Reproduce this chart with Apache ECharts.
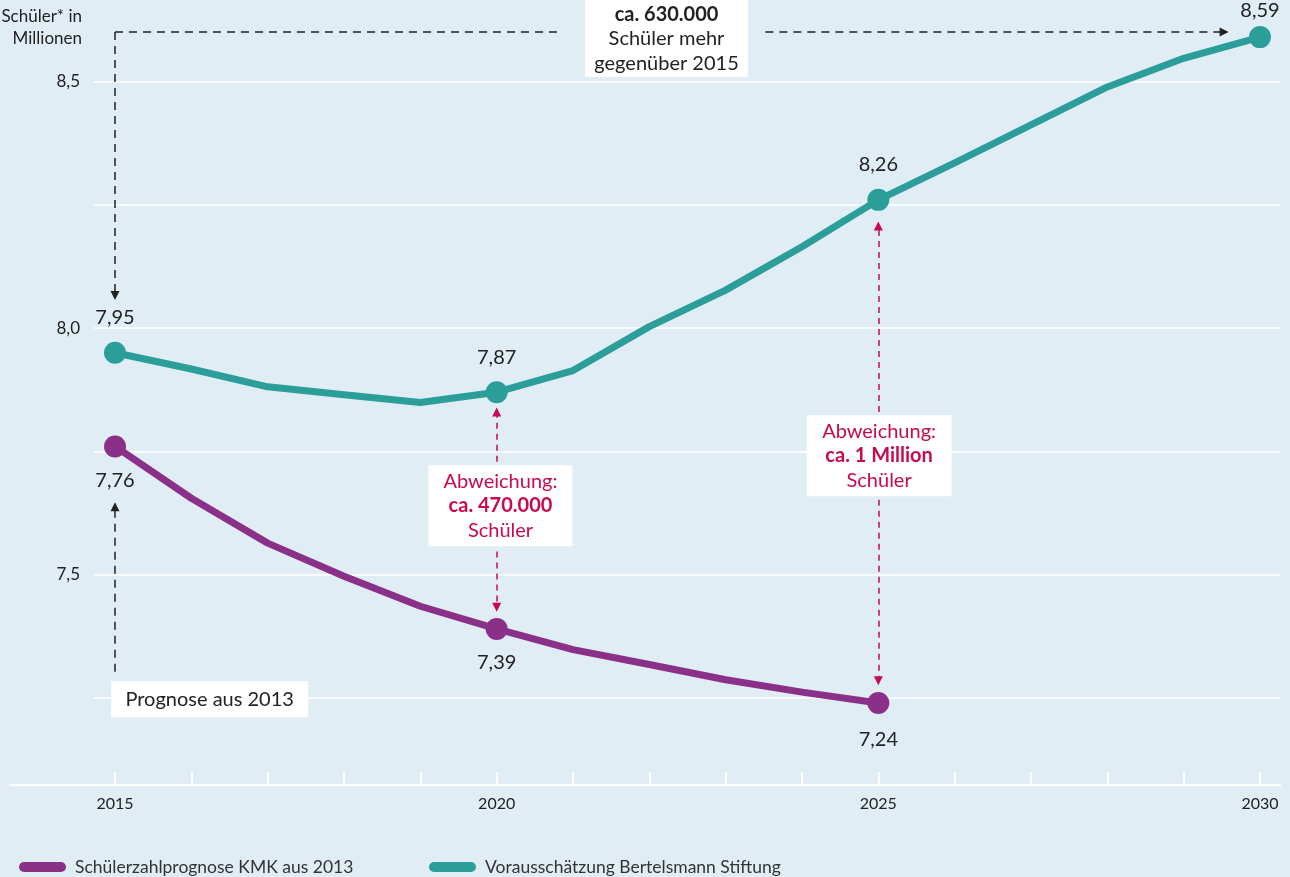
<!DOCTYPE html>
<html><head><meta charset="utf-8">
<script src="https://cdn.jsdelivr.net/npm/echarts@6/dist/echarts.min.js"></script>
<style>html,body{margin:0;padding:0;background:#e0edf5}#c{width:1290px;height:877px}</style>
</head><body><div id="c"></div>
<script>
// ---- data ----
const years = [2015,2016,2017,2018,2019,2020,2021,2022,2023,2024,2025,2026,2027,2028,2029,2030];
const kmkYears = [2015,2016,2017,2018,2019,2020,2021,2022,2023,2024,2025];
const kmkValues = [7.76,7.655,7.564,7.497,7.436,7.39,7.348,7.318,7.287,7.262,7.24];
const bertYears = years;
const bertValues = [7.95,7.917,7.881,7.865,7.849,7.87,7.914,8.003,8.077,8.165,8.26,8.335,8.412,8.489,8.547,8.59];
const labelledYears = [2015,2020,2025,2030];
const xTickLabels = [2015,2020,2025,2030];
const seriesNames = ['Schülerzahlprognose KMK aus 2013','Vorausschätzung Bertelsmann Stiftung'];

// ---- styles ----
const TEAL = '#2b9e99', PURPLE = '#8b3088', CRIMSON = '#c80a50', INK = '#222';
const FONT = 'Lato';
const fmt = v => v.toFixed(2).replace('.', ',');

// axis scale (pixel geometry of the plot)
const yMin = 7.25 - (785 - 698) / 493.2;
const yMax = 8.5 + 81.5 / 493.2;
const xMin = 2015 - 105 / 76.33;
const xMax = 2030 + 20 / 76.33;

const chart = echarts.init(document.getElementById('c'), null, {renderer:'canvas'});

function pts(ys, vs){ return ys.map((y,i)=>[y, vs[i]]); }

const black = {color: INK, width: 1.5, type: [8,6]};
const red = {color: CRIMSON, width: 1.5, type: [6,5]};
function seg(a, b, style, endSym, startSym){
  return [{coord:a, lineStyle:style, symbol:startSym||'none', symbolSize:9},
          {coord:b, symbol:endSym||'none', symbolSize:9}];
}
function box(coord, size, text, rich){
  return {coord, symbol:'rect', symbolSize:size, itemStyle:{color:'#fff'},
    label:{show:true, position:'inside', formatter:text, rich, lineHeight:24.5}};
}
const richDark = {b:{fontFamily:FONT, fontSize:20, fontWeight:'bold', color:INK, lineHeight:24.5},
                  r:{fontFamily:FONT, fontSize:20, color:INK, lineHeight:24.5}};
const richRed = {b:{fontFamily:FONT, fontSize:20, fontWeight:'bold', color:CRIMSON, lineHeight:24.5},
                 r:{fontFamily:FONT, fontSize:20, color:CRIMSON, lineHeight:24.5}};

const labelBase = {show:true, fontFamily:FONT, fontSize:20, color:INK};

const option = {
  backgroundColor: '#e0edf5',
  animation: false,
  textStyle: {fontFamily: FONT},
  grid: [
    {left:94, right:10, top:81.5, bottom:877-698},
    {left:10, right:10, top:0, bottom:877-785}
  ],
  xAxis: [
    {gridIndex:0, type:'value', min:xMin, max:xMax, show:false},
    {gridIndex:1, type:'value', min:xMin, max:xMax,
      axisLine:{show:true, lineStyle:{color:'#fff', width:2}},
      axisTick:{show:true, inside:true, length:13, lineStyle:{color:'#fff', width:2}, customValues: years},
      axisLabel:{customValues: xTickLabels, fontFamily:FONT, fontSize:16, color:INK, margin:11, formatter: v => String(v)},
      splitLine:{show:false}}
  ],
  yAxis: [
    {gridIndex:0, type:'value', min:7.25, max:8.5, interval:0.25,
      axisLine:{show:false}, axisTick:{show:false},
      axisLabel:{fontFamily:FONT, fontSize:17, color:INK, margin:14,
        formatter: v => Math.abs(v*2 - Math.round(v*2)) < 1e-6 ? v.toFixed(1).replace('.', ',') : ''},
      splitLine:{show:true, lineStyle:{color:'#fff', width:1.5}}},
    {gridIndex:1, type:'value', min:yMin, max:yMax, show:false}
  ],
  legend: [
    {data:[seriesNames[0]], left:14, top:853, itemWidth:47, itemHeight:10, itemGap:0, selectedMode:false,
      icon:'path://M5,0H42A5,5,0,0,1,42,10H5A5,5,0,0,1,5,0Z',
      textStyle:{fontFamily:FONT, fontSize:17.5, color:'#333', padding:[0,0,0,4]}},
    {data:[seriesNames[1]], left:424, top:853, itemWidth:47, itemHeight:10, itemGap:0, selectedMode:false,
      icon:'path://M5,0H42A5,5,0,0,1,42,10H5A5,5,0,0,1,5,0Z',
      textStyle:{fontFamily:FONT, fontSize:17.5, color:'#333', padding:[0,0,0,4]}}
  ],
  graphic: [
    {type:'text', right:1290-82, top:6, style:{text:'Schüler* in\nMillionen', font:'17px Lato', fill:INK, textAlign:'right', lineHeight:22}}
  ],
  series: [
    {
      name: seriesNames[0], type:'line', xAxisIndex:1, yAxisIndex:1,
      data: pts(kmkYears, kmkValues).map(p => ({value:p,
        label: labelledYears.includes(p[0]) ? {...labelBase, position:'bottom', distance: p[0]===2025 ? 16 : 13, formatter: fmt(p[1])} : {show:false}})),
      symbol:'circle', symbolSize: v => labelledYears.includes(v[0]) ? 22 : 0,
      lineStyle:{width:7, color:PURPLE, join:'round'}, itemStyle:{color:PURPLE},
      emphasis:{disabled:true}, silent:true, clip:false, z:3
    },
    {
      name: seriesNames[1], type:'line', xAxisIndex:1, yAxisIndex:1,
      data: pts(bertYears, bertValues).map(p => ({value:p,
        label: labelledYears.includes(p[0]) ? {...labelBase, position:'top', distance: p[0]===2030 ? 6 : 14, formatter: fmt(p[1])} : {show:false}})),
      symbol:'circle', symbolSize: v => labelledYears.includes(v[0]) ? 22 : 0,
      lineStyle:{width:7, color:TEAL, join:'round'}, itemStyle:{color:TEAL},
      emphasis:{disabled:true}, silent:true, clip:false, z:3,
      markLine: {
        silent:true, animation:false, precision:4, label:{show:false},
        data: [
          seg([2015, 8.6004], [2015, 8.066], black, 'triangle'),
          seg([2015, 8.6004], [2020.83, 8.6004], black),
          seg([2023.52, 8.6004], [2029.53, 8.6004], black, 'triangle'),
          seg([2015, 7.303], [2015, 7.638], black, 'triangle'),
          seg([2020, 7.729], [2020, 7.830], red, 'triangle'),
          seg([2020, 7.547], [2020, 7.434], red, 'triangle'),
          seg([2025, 7.830], [2025, 8.207], red, 'triangle'),
          seg([2025, 7.652], [2025, 7.285], red, 'triangle')
        ]
      },
      markPoint: {
        silent:true, animation:false, z:6,
        data: [
          box([2022.225, 8.587], [163, 77], '{b|ca. 630.000}\n{r|Schüler mehr}\n{r|gegenüber 2015}', richDark),
          box([2016.24, 7.2475], [197, 36], '{r|Prognose aus 2013}', richDark),
          box([2020.05, 7.640], [144, 81], '{r|Abweichung:}\n{b|ca. 470.000}\n{r|Schüler}', richRed),
          box([2025.01, 7.741], [145, 81], '{r|Abweichung:}\n{b|ca. 1 Million}\n{r|Schüler}', richRed)
        ]
      }
    }
  ]
};
chart.setOption(option);
</script></body></html>
